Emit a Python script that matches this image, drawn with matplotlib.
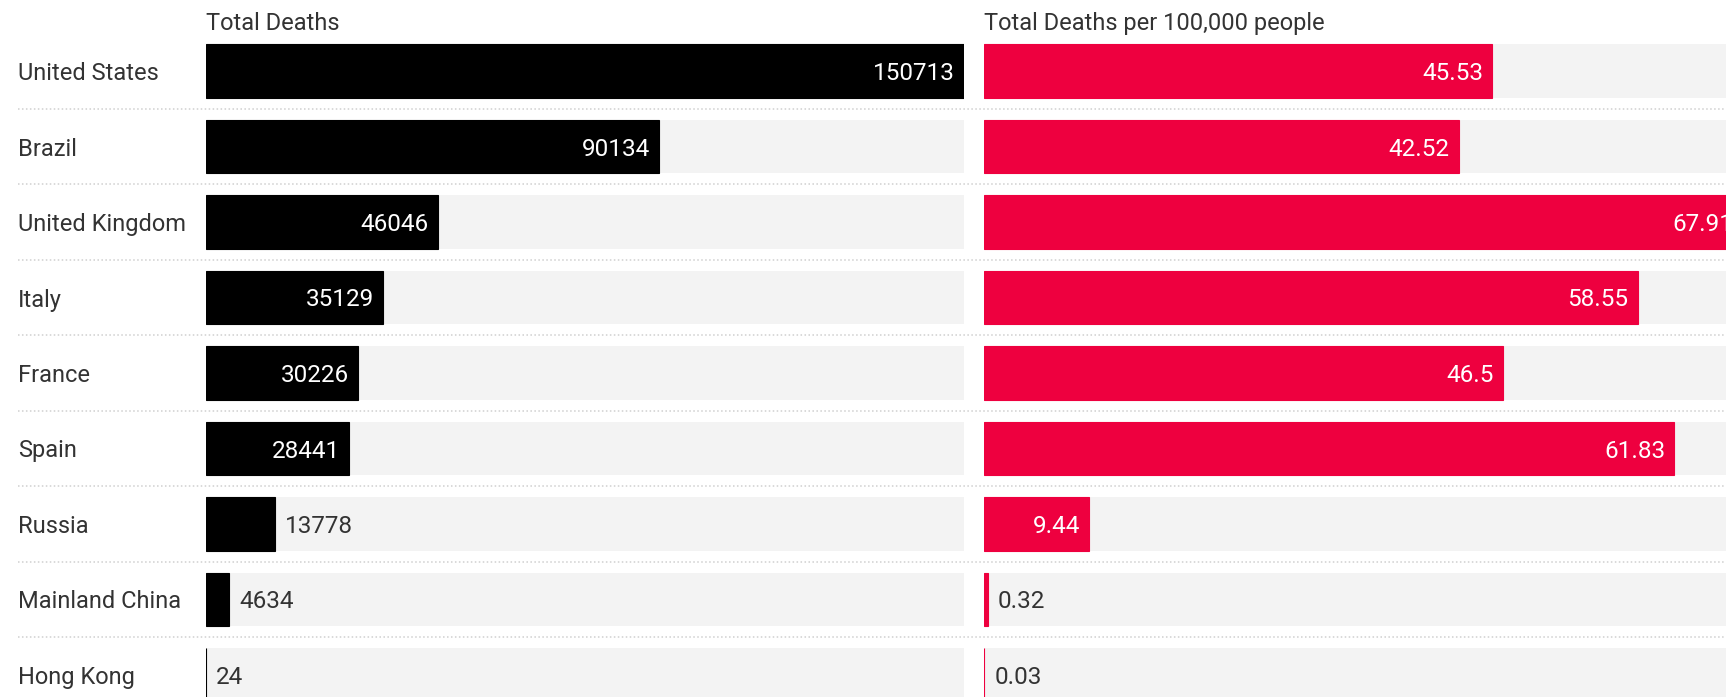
import matplotlib.pyplot as plt
import numpy as np

# Data
countries = ['United States', 'Brazil', 'United Kingdom', 'Italy', 'France',
             'Spain', 'Russia', 'Mainland China', 'Hong Kong']
total_deaths = [150713, 90134, 46046, 35129, 30226, 28441, 13778, 4634, 24]
deaths_per_100k = [45.53, 42.52, 67.91, 58.55, 46.5, 61.83, 9.44, 0.32, 0.03]
death_labels = [str(v) for v in total_deaths]
rate_labels = ['45.53', '42.52', '67.91', '58.55', '46.5', '61.83', '9.44', '0.32', '0.03']

plt.rcParams['font.family'] = ['Roboto', 'DejaVu Sans']

W, H = 1726, 697
DPI = 100
fig = plt.figure(figsize=(W / DPI, H / DPI), dpi=DPI)

# row layout (pixels)
row_top = 71.0      # centre of the first row
row_pitch = 75.5
bar_h = 53.5 / row_pitch
text_dy = 2.5 / row_pitch   # nudge row text down a touch
ylim = ((H - row_top) / row_pitch, -row_top / row_pitch)

text_col = '#333333'
bg_col = '#f3f3f3'
red = '#ee003f'

# base layer: country names, headers, dotted separators
base = fig.add_axes([0, 0, 1, 1])
base.set_xlim(0, W)
base.set_ylim(*ylim)
base.axis('off')

y = np.arange(len(countries))
for i, name in enumerate(countries):
    base.text(18, i + text_dy, name, ha='left', va='center', fontsize=17,
              color=text_col)
base.hlines(y[:-1] + 0.5, 18, W, colors='#cfcfcf', linewidth=1.1,
            linestyles=(0, (1, 1.6)))

panel_x = [206, 984]
panel_w = 758
headers = ['Total Deaths', 'Total Deaths per 100,000 people']
for x0, title in zip(panel_x, headers):
    base.text(x0, -row_top / row_pitch + 23.5 / row_pitch, title, ha='left',
              va='center', fontsize=17, color=text_col)


def draw_panel(x0, values, labels, color):
    ax = fig.add_axes([x0 / W, 0, panel_w / W, 1])
    ax.set_facecolor('none')
    ax.axis('off')
    vmax = max(values)
    ax.set_xlim(0, vmax)
    ax.set_ylim(*ylim)
    ax.barh(y, [vmax] * len(values), height=bar_h, color=bg_col, linewidth=0)
    ax.barh(y, values, height=bar_h, color=color, edgecolor=color, linewidth=0.8)
    for i, (v, s) in enumerate(zip(values, labels)):
        bar_px = v / vmax * panel_w
        text_px = 14 * len(s.replace('.', '')) + 6 * s.count('.')
        if bar_px > text_px + 20:
            ax.annotate(s, (v, i + text_dy), xytext=(-9, 0),
                        textcoords='offset pixels', ha='right', va='center',
                        fontsize=17.5, color='white')
        else:
            ax.annotate(s, (v, i + text_dy), xytext=(10, 0),
                        textcoords='offset pixels', ha='left', va='center',
                        fontsize=17.5, color=text_col)
    return ax


draw_panel(panel_x[0], total_deaths, death_labels, 'black')
draw_panel(panel_x[1], deaths_per_100k, rate_labels, red)

fig.savefig('out.png', dpi=DPI)
